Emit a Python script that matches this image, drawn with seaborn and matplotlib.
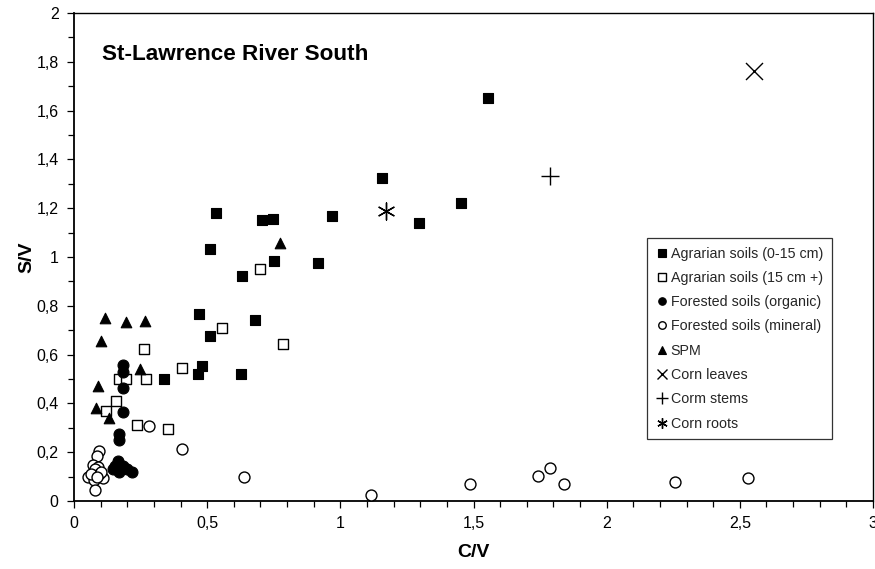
import matplotlib
matplotlib.use("Agg")
import matplotlib.pyplot as plt
from matplotlib.ticker import MultipleLocator, FuncFormatter
from matplotlib.lines import Line2D
import seaborn as sns
import pandas as pd

# ---- data ----
agr_top_x = [1.553, 1.155, 0.532, 0.705, 0.747, 0.970, 1.297, 1.454, 0.511, 0.632,
             0.750, 0.917, 0.469, 0.681, 0.512, 0.339, 0.464, 0.480, 0.627]
agr_top_y = [1.653, 1.325, 1.182, 1.153, 1.155, 1.167, 1.140, 1.223, 1.034, 0.924,
             0.982, 0.974, 0.768, 0.740, 0.675, 0.499, 0.522, 0.552, 0.520]

agr_deep_x = [0.699, 0.785, 0.555, 0.264, 0.405, 0.169, 0.195, 0.270, 0.159, 0.120, 0.235, 0.354]
agr_deep_y = [0.952, 0.645, 0.711, 0.622, 0.545, 0.499, 0.499, 0.499, 0.411, 0.369, 0.313, 0.295]

for_org_x = [0.185, 0.183, 0.185, 0.185, 0.169, 0.169, 0.164, 0.185, 0.145, 0.216, 0.170, 0.200, 0.155]
for_org_y = [0.556, 0.530, 0.463, 0.365, 0.276, 0.250, 0.165, 0.145, 0.130, 0.120, 0.120, 0.130, 0.145]

for_min_x = [0.095, 0.087, 0.072, 0.090, 0.080, 0.053, 0.075, 0.108, 0.095, 0.078, 0.065, 0.100, 0.085,
             0.281, 0.406, 0.637, 1.116, 1.485, 1.744, 1.789, 1.841, 2.256, 2.531]
for_min_y = [0.205, 0.183, 0.146, 0.140, 0.133, 0.098, 0.085, 0.095, 0.112, 0.047, 0.110, 0.120, 0.100,
             0.308, 0.213, 0.098, 0.023, 0.070, 0.101, 0.137, 0.068, 0.079, 0.096]

spm_x = [0.116, 0.194, 0.267, 0.100, 0.247, 0.090, 0.081, 0.130, 0.772]
spm_y = [0.750, 0.734, 0.739, 0.656, 0.543, 0.470, 0.381, 0.340, 1.057]

leaves_x = [2.553]
leaves_y = [1.761]
stems_x = [1.787]
stems_y = [1.331]
roots_x = [1.172]
roots_y = [1.189]

series_names = ["Agrarian soils (0-15 cm)", "Agrarian soils (15 cm +)",
                "Forested soils (organic)", "Forested soils (mineral)", "SPM",
                "Corn leaves", "Corm stems", "Corn roots"]
series_data = [(agr_top_x, agr_top_y), (agr_deep_x, agr_deep_y),
               (for_org_x, for_org_y), (for_min_x, for_min_y), (spm_x, spm_y),
               (leaves_x, leaves_y), (stems_x, stems_y), (roots_x, roots_y)]

frames = []
for name, (xs, ys) in zip(series_names, series_data):
    frames.append(pd.DataFrame({"C/V": xs, "S/V": ys, "group": name}))
df = pd.concat(frames, ignore_index=True)

# ---- style ----
sns.set_theme(style="white")
plt.rcParams['font.family'] = ['Liberation Sans', 'DejaVu Sans']

styles = {
    "Agrarian soils (0-15 cm)": dict(marker="s", s=46, fc="black", lw=0.8, ms=5.2),
    "Agrarian soils (15 cm +)": dict(marker="s", s=50, fc="white", lw=1.0, ms=5.2),
    "Forested soils (organic)": dict(marker="o", s=62, fc="black", lw=0.8, ms=5.4),
    "Forested soils (mineral)": dict(marker="o", s=62, fc="white", lw=1.0, ms=5.4),
    "SPM": dict(marker="^", s=58, fc="black", lw=0.8, ms=6.0),
    "Corn leaves": dict(marker="x", s=150, fc="black", lw=1.0, ms=7.5),
    "Corm stems": dict(marker="+", s=150, fc="black", lw=1.0, ms=8.0),
    "Corn roots": dict(marker=(6, 2, 0), s=150, fc="black", lw=1.0, ms=7.5),
}

fig = plt.figure(figsize=(8.75, 5.69), dpi=100)
ax = fig.add_axes([74 / 875, 1 - 501 / 569, (873 - 74) / 875, (501 - 13) / 569])

handles = []
for name in series_names:
    sub = df[df["group"] == name]
    st = styles[name]
    if st["marker"] in ("x", "+"):
        sns.scatterplot(data=sub, x="C/V", y="S/V", ax=ax, marker=st["marker"], s=st["s"],
                        color="black", linewidth=st["lw"], zorder=3, legend=False)
    else:
        sns.scatterplot(data=sub, x="C/V", y="S/V", ax=ax, marker=st["marker"], s=st["s"],
                        facecolor=st["fc"], edgecolor="black",
                        linewidth=st["lw"], zorder=3, legend=False)
    handles.append(Line2D([], [], linestyle="none", marker=st["marker"], markersize=st["ms"],
                          markerfacecolor=st["fc"], markeredgecolor="black",
                          markeredgewidth=st["lw"], color="black", label=name))

ax.set_xlim(0, 3)
ax.set_ylim(0, 2)
ax.xaxis.set_major_locator(MultipleLocator(0.5))
ax.xaxis.set_minor_locator(MultipleLocator(0.1))
ax.yaxis.set_major_locator(MultipleLocator(0.2))
ax.yaxis.set_minor_locator(MultipleLocator(0.1))

def comma(v, pos):
    s = f"{v:.1f}".rstrip("0").rstrip(".")
    return s.replace(".", ",")

ax.xaxis.set_major_formatter(FuncFormatter(comma))
ax.yaxis.set_major_formatter(FuncFormatter(comma))
ax.tick_params(which="major", direction="out", length=5, width=0.9, color="black",
               labelsize=11.5, labelcolor="black", pad=6, bottom=True, left=True)
ax.tick_params(which="minor", direction="out", length=4, width=0.9, color="black",
               bottom=True, left=True)

for sp in ax.spines.values():
    sp.set_color("black")
    sp.set_linewidth(1.0)
ax.spines["left"].set_linewidth(1.3)
ax.spines["bottom"].set_linewidth(1.3)

ax.set_xlabel("C/V", fontsize=14, fontweight="bold", color="black", labelpad=9)
ax.set_ylabel("S/V", fontsize=14, fontweight="bold", color="black", labelpad=1)

ax.text(0.105, 1.83, "St-Lawrence River South", fontsize=16.2, fontweight="bold",
        color="black", va="center", ha="left")

leg = ax.legend(handles=handles, loc="upper left",
                bbox_to_anchor=((647 - 74) / 799, 1 - (238 - 13) / 488),
                frameon=True, fancybox=False, fontsize=10.3, handletextpad=0.15,
                borderpad=0.6, labelspacing=0.72, handlelength=0.9,
                borderaxespad=0)
leg.get_frame().set_edgecolor("black")
leg.get_frame().set_linewidth(0.9)

fig.savefig("out.png", dpi=100)
